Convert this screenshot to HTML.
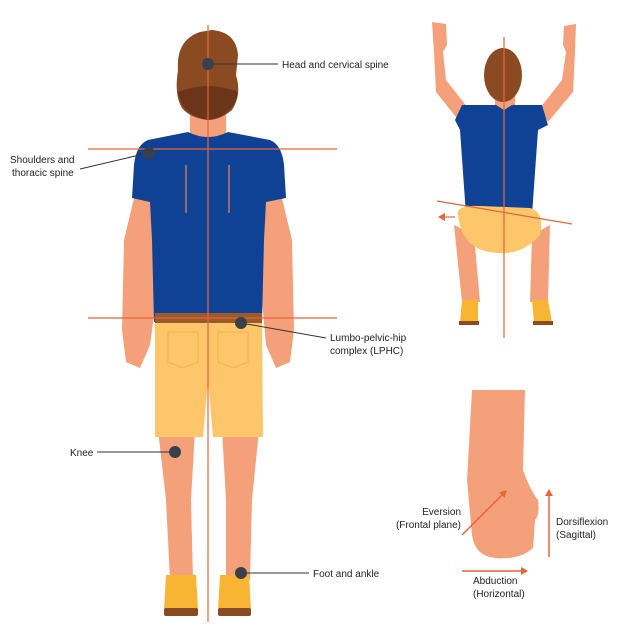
<!DOCTYPE html>
<html><head><meta charset="utf-8"><style>
html,body{margin:0;padding:0;background:#fff;width:625px;height:629px;overflow:hidden}
text{font-family:"Liberation Sans",sans-serif;font-size:10px;fill:#222}
</style></head><body>
<svg width="625" height="629" viewBox="0 0 625 629" xmlns="http://www.w3.org/2000/svg">
<defs>
<marker id="ah" markerWidth="8" markerHeight="8" refX="6" refY="4" orient="auto" markerUnits="userSpaceOnUse"><path d="M0,0 L7,4 L0,8 z" fill="#e8643a"/></marker>
</defs>
<!-- MAIN FIGURE -->
<path d="M136,190 L152,192 L156,300 L150,345 L140,368 L126,362 L122,330 L124,240 Z" fill="#f4a07a"/>
<path d="M280,190 L264,192 L262,300 L266,345 L276,368 L290,362 L294,330 L292,240 Z" fill="#f4a07a"/>
<rect x="190" y="100" width="36" height="40" fill="#f4a07a"/>
<path d="M188,132 Q208,142 228,132 L270,140 Q282,145 284,165 L286,198 L266,202 L264,240 L262,322 L154,322 L152,240 L150,202 L132,198 L134,165 Q136,145 148,140 Z" fill="#0f4294"/>
<line x1="186" y1="165" x2="186" y2="213" stroke="#c9745a" stroke-width="1.5"/>
<line x1="229" y1="165" x2="229" y2="213" stroke="#c9745a" stroke-width="1.5"/>
<path d="M158,430 L195,430 L191,500 L193,580 L170,580 L166,500 Z" fill="#f4a07a"/>
<path d="M222,430 L259,430 L252,500 L250,580 L226,580 L226,500 Z" fill="#f4a07a"/>
<path d="M155,318 L262,318 L263,437 L213,437 L208,380 L203,437 L155,437 Z" fill="#fdc66a"/>
<path d="M168,332 L198,332 L198,362 L183,368 L168,362 Z" fill="none" stroke="#f0b34f" stroke-width="1"/>
<path d="M218,332 L248,332 L248,362 L233,368 L218,362 Z" fill="none" stroke="#f0b34f" stroke-width="1"/>
<rect x="155" y="313" width="107" height="10" fill="#9b5a2a"/>
<path d="M166,575 L196,575 L198,610 L164,610 Z" fill="#f7b533"/>
<rect x="164" y="608" width="34" height="8" rx="2" fill="#8a4b22"/>
<path d="M220,575 L249,575 L251,610 L218,610 Z" fill="#f7b533"/>
<rect x="218" y="608" width="33" height="8" rx="2" fill="#8a4b22"/>
<path d="M178,70 Q176,40 200,32 L212,30 Q236,32 238,55 L236,75 Q242,95 232,110 Q220,120 208,120 Q190,118 182,108 Q174,95 178,70 Z" fill="#8a4a22"/>
<path d="M178,92 Q208,80 238,92 Q234,116 208,120 Q182,116 178,92 Z" fill="#6b3519"/>
<line x1="208" y1="25" x2="208" y2="622" stroke="#e8643a" stroke-width="1.2"/>
<line x1="88" y1="149" x2="337" y2="149" stroke="#e8643a" stroke-width="1.2"/>
<line x1="88" y1="318" x2="337" y2="318" stroke="#e8643a" stroke-width="1.2"/>
<g stroke="#333" stroke-width="1">
<line x1="208" y1="64" x2="278" y2="64"/>
<line x1="148" y1="153" x2="80" y2="169"/>
<line x1="241" y1="323" x2="326" y2="338"/>
<line x1="175" y1="452" x2="97" y2="452"/>
<line x1="241" y1="573" x2="309" y2="573"/>
</g>
<g fill="#3a4049">
<circle cx="208" cy="64" r="6"/><circle cx="149" cy="153" r="6"/><circle cx="241" cy="323" r="6"/><circle cx="175" cy="452" r="6"/><circle cx="241" cy="573" r="6"/>
</g>
<text x="282" y="68">Head and cervical spine</text>
<text x="10" y="163">Shoulders and</text>
<text x="12" y="176">thoracic spine</text>
<text x="330" y="341">Lumbo-pelvic-hip</text>
<text x="330" y="354">complex (LPHC)</text>
<text x="70" y="456">Knee</text>
<text x="313" y="577">Foot and ankle</text>

<!-- SQUAT FIGURE -->
<path d="M432,22 L446,24 L447,45 L443,52 L446,80 L468,108 L460,122 L436,92 L434,52 Z" fill="#f4a07a"/>
<path d="M576,24 L564,26 L563,45 L566,52 L562,80 L540,108 L548,122 L573,92 L575,52 Z" fill="#f4a07a"/>
<rect x="495" y="90" width="20" height="20" fill="#f4a07a"/>
<path d="M462,105 L496,105 L504,110 L512,105 L542,105 L548,125 L538,130 L532,215 L466,215 L460,130 L455,120 Z" fill="#0f4294"/>
<path d="M454,225 L474,235 L480,302 L462,302 Z" fill="#f4a07a"/>
<path d="M550,225 L532,235 L530,302 L548,302 Z" fill="#f4a07a"/>
<path d="M458,215 Q455,205 480,206 L530,208 Q545,212 540,235 Q520,258 490,252 Q462,248 458,215 Z" fill="#fdc66a"/>
<path d="M462,300 L478,300 L478,322 L460,322 Z" fill="#f7b533"/>
<rect x="459" y="321" width="20" height="4" fill="#8a4b22"/>
<path d="M532,300 L548,300 L552,322 L534,322 Z" fill="#f7b533"/>
<rect x="533" y="321" width="20" height="4" fill="#8a4b22"/>
<ellipse cx="503" cy="75" rx="19" ry="27" fill="#8a4a22"/>
<line x1="504" y1="37" x2="504" y2="338" stroke="#e8643a" stroke-width="1.2"/>
<line x1="437" y1="201" x2="572" y2="224" stroke="#e8643a" stroke-width="1.2"/>
<line x1="455" y1="217" x2="439" y2="217" stroke="#e8643a" stroke-width="1.2" marker-end="url(#ah)"/>

<!-- FOOT -->
<path d="M472,390 L525,390 L523,470 Q530,490 538,500 Q540,515 535,520 L533,548 Q520,560 495,558 Q475,556 472,535 L467,480 Z" fill="#f4a07a"/>
<line x1="462" y1="535" x2="506" y2="491" stroke="#e8643a" stroke-width="1.5" marker-end="url(#ah)"/>
<line x1="549" y1="557" x2="549" y2="490" stroke="#e8643a" stroke-width="1.5" marker-end="url(#ah)"/>
<line x1="462" y1="571" x2="527" y2="571" stroke="#e8643a" stroke-width="1.5" marker-end="url(#ah)"/>
<text x="461" y="515" text-anchor="end">Eversion</text>
<text x="461" y="528" text-anchor="end">(Frontal plane)</text>
<text x="556" y="525">Dorsiflexion</text>
<text x="556" y="538">(Sagittal)</text>
<text x="473" y="584">Abduction</text>
<text x="473" y="597">(Horizontal)</text>
</svg>
</body></html>
